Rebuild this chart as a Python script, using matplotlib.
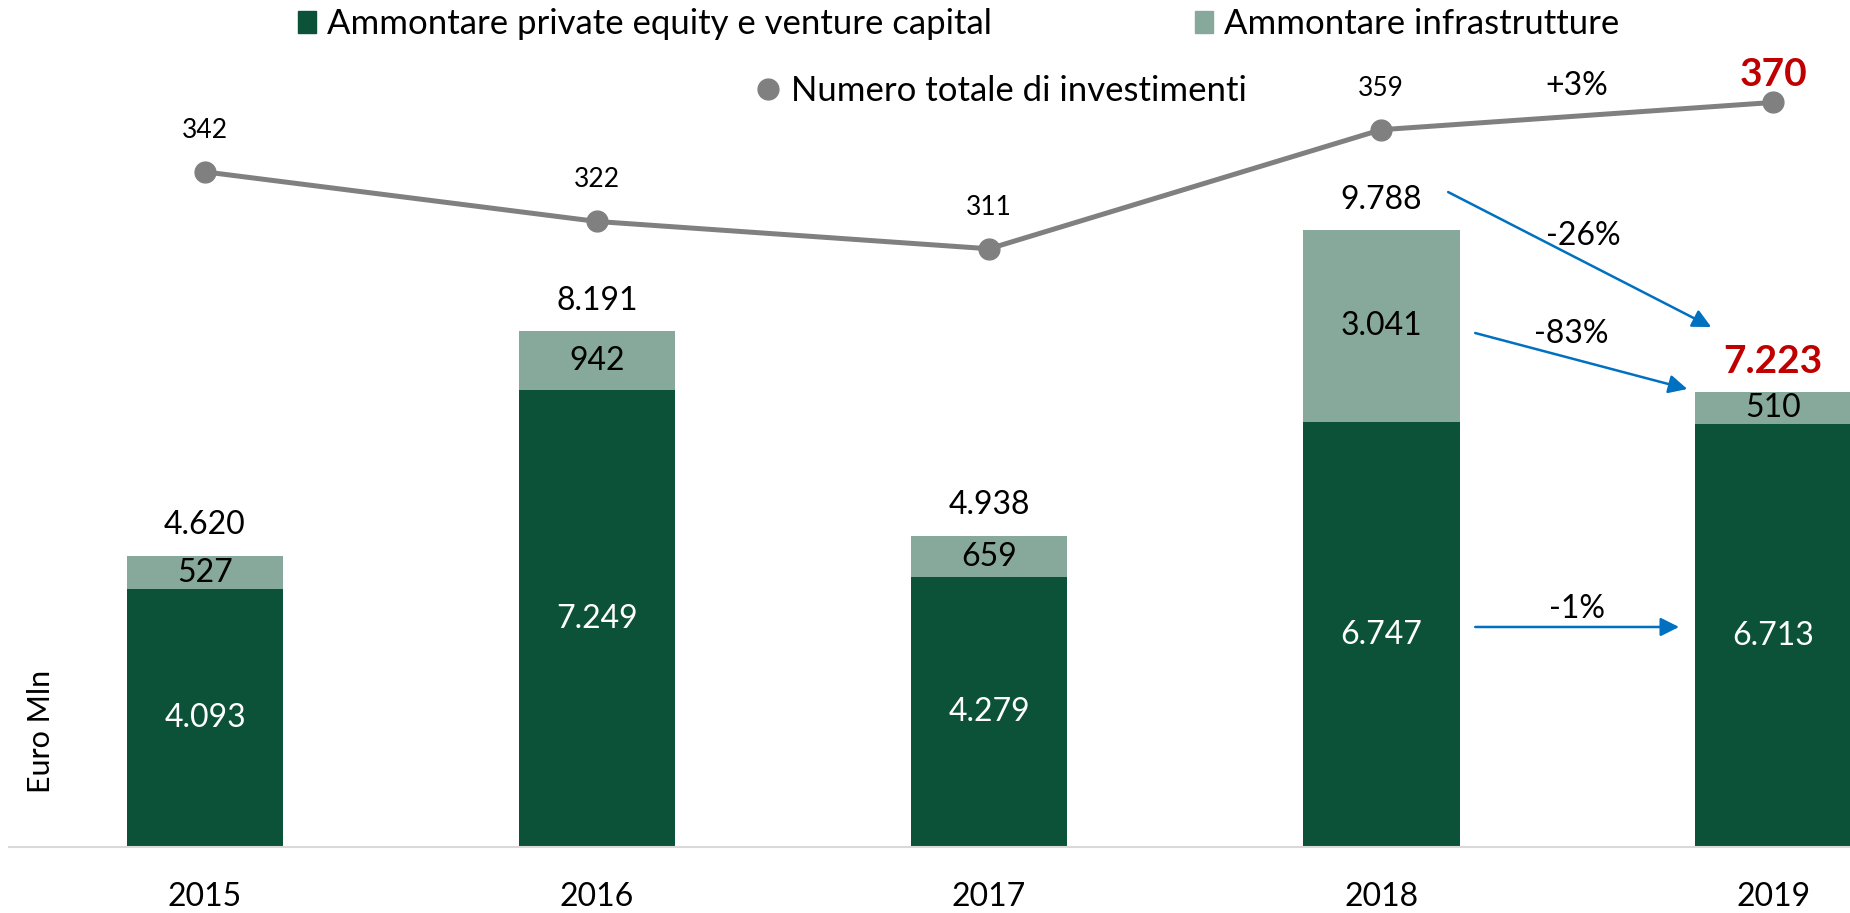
import matplotlib
matplotlib.use('Agg')
import matplotlib.pyplot as plt
from matplotlib.patches import Patch
from matplotlib.lines import Line2D

plt.rcParams['font.family'] = ['Lato', 'DejaVu Sans']

# ── Data ───────────────────────────────────────────────────────────────────
years = ['2015', '2016', '2017', '2018', '2019']
pe_vc = [4093, 7249, 4279, 6747, 6713]      # private equity e venture capital
infra = [527, 942, 659, 3041, 510]          # infrastrutture
n_inv = [342, 322, 311, 359, 370]           # numero totale di investimenti
totals = [a + b for a, b in zip(pe_vc, infra)]

# growth 2018 -> 2019
pct_tot = '-26%'
pct_infra = '-83%'
pct_pe = '-1%'
pct_n = '+3%'

DARK = '#0B5239'
LIGHT = '#86A99C'
GREY = '#808080'
RED = '#C00000'
BLUE = '#0070C0'


def it(v):
    return f'{v:,}'.replace(',', '.')


W, H = 1850, 913
fig = plt.figure(figsize=(W / 100, H / 100), dpi=100)
ax = fig.add_axes([9 / W, 1 - 847 / H, 1 - 9 / W, 847 / H])

x = list(range(len(years)))
ax.bar(x, pe_vc, width=0.40, color=DARK, zorder=2)
ax.bar(x, infra, width=0.40, bottom=pe_vc, color=LIGHT, zorder=2)

ax.set_xlim(-0.5, 4.196)
ax.set_ylim(0, 13447)
for s in ['top', 'left', 'right']:
    ax.spines[s].set_visible(False)
ax.spines['bottom'].set_color('#D9D9D9')
ax.spines['bottom'].set_linewidth(1.5)
ax.set_yticks([])
ax.set_xticks(x)
ax.set_xticklabels(years, fontsize=23)
ax.tick_params(axis='x', length=0, pad=25)

# bar labels
for i in x:
    ax.text(i, pe_vc[i] / 2, it(pe_vc[i]), ha='center', va='center',
            color='white', fontsize=23, zorder=3)
    ax.text(i, pe_vc[i] + infra[i] / 2, it(infra[i]), ha='center',
            va='center', color='black', fontsize=23, zorder=3)
    last = i == len(x) - 1
    ax.annotate(it(totals[i]), (i, totals[i]), xytext=(0, 22),
                textcoords='offset points', ha='center', va='center',
                fontsize=28 if last else 23,
                fontweight='bold' if last else 'normal',
                color=RED if last else 'black')

# line on secondary axis
ax2 = ax.twinx()
ax2.set_ylim(69.8, 411.3)
ax2.axis('off')
ax2.plot(x, n_inv, color=GREY, lw=3.6, marker='o', ms=15, zorder=4)
for i in x:
    last = i == len(x) - 1
    ax2.annotate(str(n_inv[i]), (i, n_inv[i]),
                 xytext=(0, 20 if last else 30), textcoords='offset points',
                 ha='center', va='center',
                 fontsize=28 if last else 19,
                 fontweight='bold' if last else 'normal',
                 color=RED if last else 'black')

# variation arrows 2018 -> 2019
arrow = dict(arrowstyle='-|>', color=BLUE, lw=1.8, mutation_scale=28,
             shrinkA=0, shrinkB=0)
ax.annotate('', xy=(3.842, 8255), xytext=(3.171, 10398), arrowprops=arrow)
ax.annotate('', xy=(3.781, 7271), xytext=(3.240, 8160), arrowprops=arrow)
ax.annotate('', xy=(3.760, 3493), xytext=(3.240, 3493), arrowprops=arrow)
ax.text(3.515, 9700, pct_tot, ha='center', va='center', fontsize=23)
ax.text(3.485, 8144, pct_infra, ha='center', va='center', fontsize=23)
ax.text(3.500, 3778, pct_pe, ha='center', va='center', fontsize=23)
ax.text(3.500, 12081, pct_n, ha='center', va='center', fontsize=23)

fig.text(41 / W, 1 - 731 / H, 'Euro Mln', rotation=90, ha='center',
         va='center', fontsize=22)

# legend
lg = dict(frameon=False, fontsize=25, borderpad=0, borderaxespad=0,
          handletextpad=0.32, loc='center left')
fig.legend([Patch(color=DARK)], ['Ammontare private equity e venture capital'],
           bbox_to_anchor=(298 / W, 1 - 24 / H), handlelength=0.52,
           handleheight=0.6, **lg)
fig.legend([Patch(color=LIGHT)], ['Ammontare infrastrutture'],
           bbox_to_anchor=(1195 / W, 1 - 24 / H), handlelength=0.52,
           handleheight=0.6, **lg)
fig.legend([Line2D([], [], color=GREY, marker='o', ms=15, lw=0)],
           ['Numero totale di investimenti'],
           bbox_to_anchor=(757 / W, 1 - 91 / H), handlelength=0.65, **lg)

fig.savefig('out.png', dpi=100)
